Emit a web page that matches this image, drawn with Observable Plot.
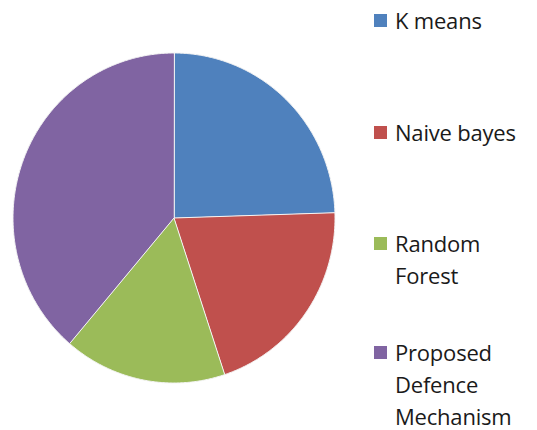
<!DOCTYPE html>
<html>
<head>
<meta charset="utf-8">
<script src="https://cdn.jsdelivr.net/npm/d3@7"></script>
<script src="https://cdn.jsdelivr.net/npm/@observablehq/plot@0.6"></script>
<style>
  html, body { margin: 0; padding: 0; background: #fff; }
  #wrap { position: relative; width: 537px; height: 430px; }
  #legend { position: absolute; left: 374px; top: 0; font-family: "Open Sans", sans-serif; font-size: 22px; color: #1a1a1a; }
  .item { position: absolute; left: 0; white-space: nowrap; }
  .sw { position: absolute; left: 0; width: 13px; height: 13px; }
  .lbl { position: absolute; left: 21px; line-height: 32px; letter-spacing: -0.2px; }
</style>
</head>
<body>
<div id="wrap"></div>
<script>
const categories = ["K means", "Naive bayes", "Random Forest", "Proposed Defence Mechanism"];
const legendLines = [["K means"], ["Naive bayes"], ["Random", "Forest"], ["Proposed", "Defence", "Mechanism"]];
const values = [60, 50, 40, 95];
const colors = ["#4F81BD", "#C0504D", "#9BBB59", "#8064A2"];

const arcs = d3.pie().sort(null).value(d => d)(values);
const pts = [];
arcs.forEach((a, i) => {
  const name = categories[i];
  pts.push({name, x: 0, y: 0});
  const n = Math.max(2, Math.ceil((a.endAngle - a.startAngle) / (Math.PI / 360)));
  for (let k = 0; k <= n; k++) {
    const t = a.startAngle + (a.endAngle - a.startAngle) * k / n;
    pts.push({name, x: Math.sin(t), y: Math.cos(t)});
  }
});

const chart = Plot.plot({
  width: 537,
  height: 430,
  margin: 0,
  x: {domain: [-1, 1], range: [12.5, 334.5], axis: null},
  y: {domain: [-1, 1], range: [382.5, 52.5], axis: null},
  color: {domain: categories, range: colors},
  marks: [
    Plot.line(pts, {x: "x", y: "y", z: "name", fill: "name", stroke: "#f4f4f4", strokeWidth: 1, curve: "linear-closed"})
  ]
});
const wrap = document.getElementById("wrap");
wrap.appendChild(chart);

const legend = document.createElement("div");
legend.id = "legend";
const tops = [4, 116, 227, 336];
categories.forEach((c, i) => {
  const item = document.createElement("div");
  item.className = "item";
  item.style.top = tops[i] + "px";
  const sw = document.createElement("div");
  sw.className = "sw";
  sw.style.background = colors[i];
  sw.style.top = "9.5px";
  item.appendChild(sw);
  const lbl = document.createElement("div");
  lbl.className = "lbl";
  lbl.innerHTML = legendLines[i].join("<br>");
  item.appendChild(lbl);
  legend.appendChild(item);
});
wrap.appendChild(legend);
</script>
</body>
</html>
